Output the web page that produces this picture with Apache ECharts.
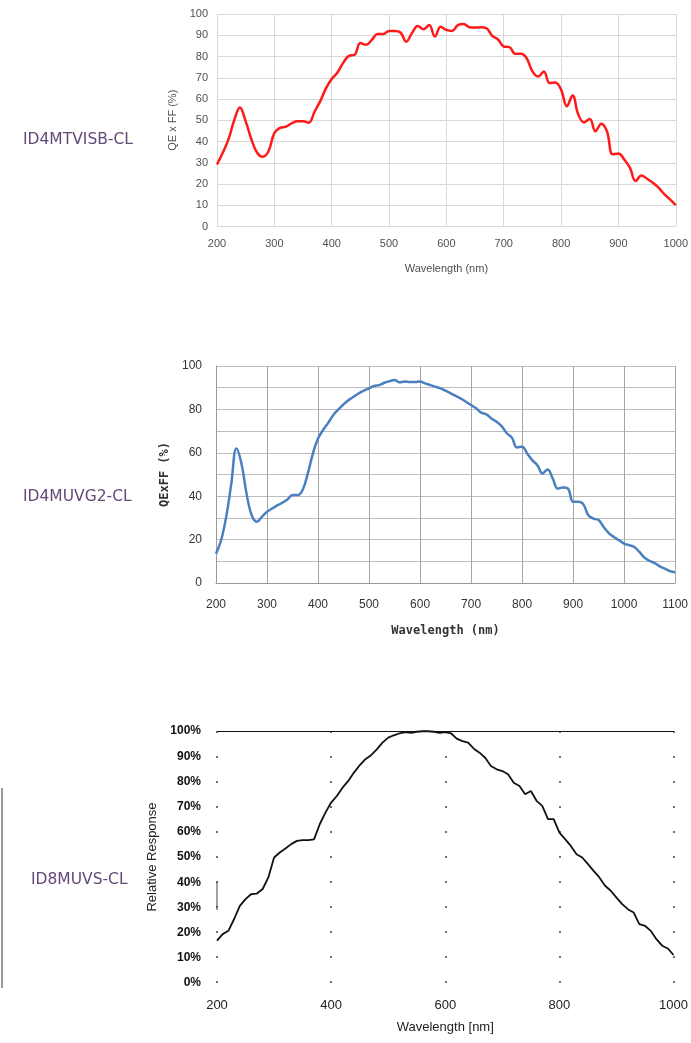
<!DOCTYPE html>
<html>
<head>
<meta charset="utf-8">
<script src="https://cdn.jsdelivr.net/npm/echarts@6/dist/echarts.min.js"></script>
<style>
  html, body { margin: 0; padding: 0; background: #fff; }
  #chart { width: 691px; height: 1043px; }
</style>
</head>
<body>
<div id="chart"></div>
<script>
// wavelengths (nm)
const wl1000 = [200, 210, 220, 230, 240, 250, 260, 270, 280, 290,
  300, 310, 320, 330, 340, 350, 360, 370, 380, 390,
  400, 410, 420, 430, 440, 450, 460, 470, 480, 490,
  500, 510, 520, 530, 540, 550, 560, 570, 580, 590,
  600, 610, 620, 630, 640, 650, 660, 670, 680, 690,
  700, 710, 720, 730, 740, 750, 760, 770, 780, 790,
  800, 810, 820, 830, 840, 850, 860, 870, 880, 890,
  900, 910, 920, 930, 940, 950, 960, 970, 980, 990, 1000];
const wl1100 = wl1000.concat([1010, 1020, 1030, 1040, 1050, 1060, 1070, 1080, 1090, 1100]);

// ID4MTVISB-CL : QE x FF (%)
const qeVisb = [29.2, 34.7, 41, 50, 56, 49.5, 41, 34.7, 32.8, 35.5,
  44, 46.4, 47, 48.5, 49.5, 49.5, 48.8, 54, 59, 65,
  69.4, 72.5, 77, 80.3, 80.8, 86.3, 85.5, 87.8, 90.6, 90.6,
  92, 92, 91.3, 87, 91, 94.4, 92.8, 94.8, 89.4, 94,
  92.5, 92, 94.8, 95.3, 93.8, 93.6, 93.8, 93.3, 89.7, 88,
  84.7, 84.4, 81.3, 81.3, 79.2, 73, 70.6, 73, 67.5, 67.8,
  64.4, 56.6, 61.6, 52.7, 49, 50.6, 44.8, 48.4, 44.8, 34,
  34.4, 31.6, 27.7, 21.4, 24, 22.5, 20.6, 18.3, 15.2, 12.8, 10];

// ID4MUVG2-CL : QExFF (%)
const qeUvg2 = [13.5, 19.7, 30.5, 45.8, 62, 55, 41, 31.2, 28.2, 30.5,
  32.8, 34.3, 35.8, 37, 38.5, 40.5, 40.5, 43, 50.5, 59.7,
  66.6, 70.5, 73.8, 77.4, 80, 82.3, 84.3, 85.8, 87.4, 88.6,
  89.7, 90.8, 91.2, 92.3, 93, 93.5, 92.5, 92.8, 92.6, 92.6,
  92.8, 92, 91.2, 90.5, 89.7, 88.6, 87.4, 86.2, 85, 83.5,
  82, 80.5, 78.5, 77.7, 75.8, 74.3, 72.3, 69, 67, 62.5,
  62.8, 59.7, 56.6, 54.3, 50.5, 52.3, 48.2, 43.5, 44, 43.5,
  37.4, 37.4, 36.3, 31.2, 29.7, 29, 25.8, 23, 21.2, 19.7,
  18.2, 17.4, 16.6, 14.3, 11.7, 10.2, 9.2, 7.7, 6.6, 5.5, 5];

// ID8MUVS-CL : Relative Response (%)
const relUvs = [16.8, 19.4, 20.7, 25.4, 30.6, 33.3, 35.3, 35.5, 37.3, 41.9,
  49.8, 51.8, 53.4, 55.1, 56.4, 56.7, 56.7, 57, 63, 67.6,
  71.6, 74.2, 77.5, 80.2, 83.5, 86.4, 88.8, 90.4, 92.7, 95.4,
  97.4, 98.3, 99.1, 99.6, 99.3, 99.7, 99.9, 99.9, 99.7, 99.3,
  99.6, 99.1, 97, 96, 95.4, 93, 91.4, 89.4, 86.1, 84.8,
  84.1, 82.8, 79.5, 78.2, 74.9, 76.2, 72.3, 70.3, 65, 65,
  59.7, 57.1, 54.4, 51.1, 49.8, 47.2, 44.5, 41.9, 38.6, 36.6,
  33.9, 31.3, 29.3, 28, 23.4, 22.7, 20.7, 17.4, 14.8, 13.7, 11.1];

const models = ['ID4MTVISB-CL', 'ID4MUVG2-CL', 'ID8MUVS-CL'];

const pairs = (xs, ys) => xs.map((x, i) => [x, ys[i]]);
const plain = v => String(v);

const chart = echarts.init(document.getElementById('chart'), null, { renderer: 'canvas' });

const purple = '#634878';
const lblFont = '"DejaVu Sans", sans-serif';
const titleStyle = { color: purple, fontSize: 15.5, fontWeight: 'normal', fontFamily: lblFont };

chart.setOption({
  backgroundColor: '#fff',
  animation: false,
  title: [
    { text: models[0], left: 18, top: 127, textStyle: titleStyle },
    { text: models[1], left: 18, top: 484, textStyle: titleStyle },
    { text: models[2], left: 26, top: 867, textStyle: titleStyle }
  ],
  grid: [
    { left: 217, top: 14, width: 460, height: 212.5 },
    { left: 216, top: 366, width: 461, height: 217 },
    { left: 217, top: 731, width: 459, height: 252 }
  ],
  xAxis: [
    {
      gridIndex: 0, type: 'value', min: 200, max: 1000, interval: 100,
      name: 'Wavelength (nm)', nameLocation: 'middle', nameGap: 37,
      nameTextStyle: { color: '#505050', fontSize: 11, fontFamily: 'Liberation Sans' },
      axisLine: { show: false }, axisTick: { show: false },
      axisLabel: { color: '#505050', fontSize: 11, margin: 12, fontFamily: 'Liberation Sans', formatter: plain },
      splitLine: { show: true, lineStyle: { color: '#d9d9d9', width: 1 } }
    },
    {
      gridIndex: 1, type: 'value', min: 200, max: 1100, interval: 100,
      name: 'Wavelength (nm)', nameLocation: 'middle', nameGap: 42,
      nameTextStyle: { color: '#333', fontSize: 12, fontWeight: 'bold', fontFamily: 'DejaVu Sans Mono' },
      axisLine: { show: true, lineStyle: { color: '#9a9a9a' } }, axisTick: { show: false },
      axisLabel: { color: '#333', fontSize: 12, margin: 16, fontFamily: 'Liberation Sans', formatter: plain },
      splitLine: { show: true, lineStyle: { color: '#a6a6a6', width: 1 } }
    },
    {
      gridIndex: 2, type: 'value', min: 200, max: 1000, interval: 200,
      name: 'Wavelength [nm]', nameLocation: 'middle', nameGap: 38,
      nameTextStyle: { color: '#222', fontSize: 13, fontFamily: 'Liberation Sans' },
      axisLine: { show: false }, axisTick: { show: false },
      axisLabel: { color: '#222', fontSize: 13, margin: 16, fontFamily: 'Liberation Sans', formatter: plain },
      // dotted grid: one dot per 10 % step along each 200 nm column
      splitLine: { show: true, lineStyle: { color: '#444', width: 1.5, type: [2, 23] } }
    }
  ],
  yAxis: [
    {
      gridIndex: 0, type: 'value', min: 0, max: 100, interval: 10,
      name: 'QE x FF (%)', nameLocation: 'middle', nameGap: 38, nameRotate: 90,
      nameTextStyle: { color: '#505050', fontSize: 11, fontFamily: 'Liberation Sans' },
      axisLine: { show: false }, axisTick: { show: false },
      axisLabel: { color: '#505050', fontSize: 11, margin: 9, fontFamily: 'Liberation Sans' },
      splitLine: { show: true, lineStyle: { color: '#d9d9d9', width: 1 } }
    },
    {
      gridIndex: 1, type: 'value', min: 0, max: 100, interval: 10,
      name: 'QExFF (%)', nameLocation: 'middle', nameGap: 42, nameRotate: 90,
      nameTextStyle: { color: '#333', fontSize: 12, fontWeight: 'bold', fontFamily: 'DejaVu Sans Mono' },
      axisLine: { show: true, lineStyle: { color: '#9a9a9a' } }, axisTick: { show: false },
      axisLabel: {
        color: '#333', fontSize: 12, margin: 14, fontFamily: 'Liberation Sans',
        formatter: v => (v % 20 === 0 ? String(v) : '')
      },
      splitLine: { show: true, lineStyle: { color: '#bdbdbd', width: 1 } }
    },
    {
      gridIndex: 2, type: 'value', min: 0, max: 100, interval: 10,
      name: 'Relative Response', nameLocation: 'middle', nameGap: 58, nameRotate: 90,
      nameTextStyle: { color: '#222', fontSize: 13, fontFamily: 'Liberation Sans' },
      axisLine: { show: false }, axisTick: { show: false },
      axisLabel: { color: '#111', fontSize: 12, fontWeight: 'bold', margin: 16, fontFamily: 'Liberation Sans', formatter: '{value}%' },
      splitLine: { show: false }
    }
  ],
  graphic: [
    { type: 'line', shape: { x1: 2, y1: 788, x2: 2, y2: 988 }, style: { stroke: '#999', lineWidth: 2 } },
    { type: 'line', shape: { x1: 217, y1: 882, x2: 217, y2: 910 }, style: { stroke: '#444', lineWidth: 1 } }
  ],
  series: [
    {
      type: 'line', xAxisIndex: 0, yAxisIndex: 0, data: pairs(wl1000, qeVisb),
      showSymbol: false, smooth: 0.4, lineStyle: { color: '#ff1a1a', width: 2.5 }
    },
    {
      type: 'line', xAxisIndex: 1, yAxisIndex: 1, data: pairs(wl1100, qeUvg2),
      showSymbol: false, smooth: 0.4, lineStyle: { color: '#4a7fc0', width: 2.5 }
    },
    {
      type: 'line', xAxisIndex: 2, yAxisIndex: 2, data: pairs(wl1000, relUvs),
      showSymbol: false, lineStyle: { color: '#111', width: 1.8 },
      markLine: {
        silent: true, symbol: 'none', label: { show: false },
        lineStyle: { color: '#111', width: 1.2, type: 'solid' },
        data: [{ yAxis: 100 }]
      }
    }
  ]
});
</script>
</body>
</html>
